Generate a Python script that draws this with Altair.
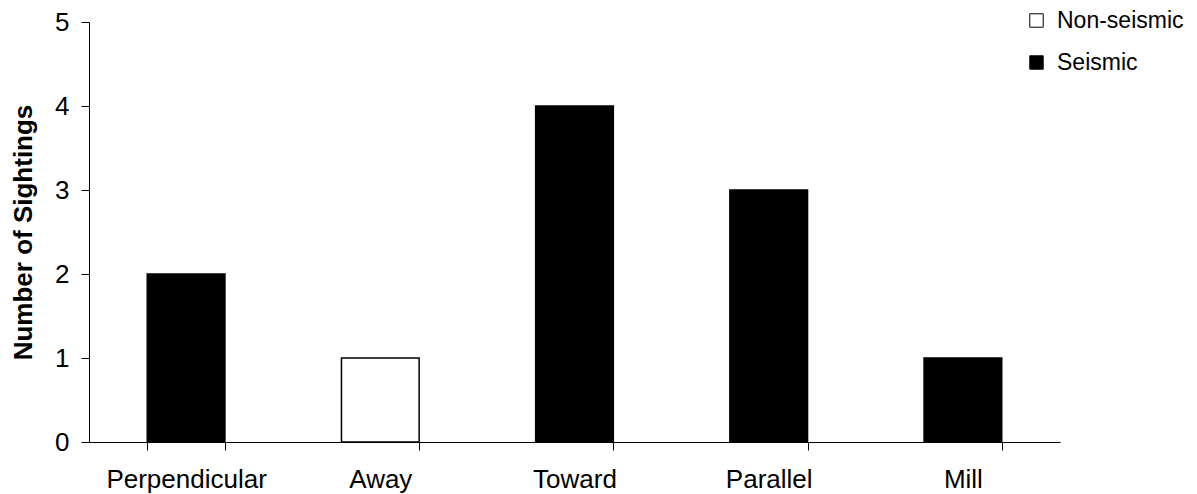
import altair as alt
import pandas as pd

categories = ["Perpendicular", "Away", "Toward", "Parallel", "Mill"]
sightings = [2, 1, 4, 3, 1]
kinds = ["Seismic", "Non-seismic", "Seismic", "Seismic", "Seismic"]

df = pd.DataFrame({"cat": categories, "n": sightings, "kind": kinds})

FONT = "Liberation Sans"

bars = alt.Chart(df).mark_bar(stroke="black", strokeWidth=1.5).encode(
    x=alt.X("cat:N", sort=categories, title=None,
            scale=alt.Scale(paddingInner=0.6, paddingOuter=0.3),
            axis=alt.Axis(labelAngle=0, tickBand="extent", tickSize=8,
                          labelPadding=16, labelFontSize=26, labelFont=FONT,
                          labelColor="black", domainColor="black", tickColor="black",
                          domainWidth=1, tickWidth=1)),
    y=alt.Y("n:Q", title="Number of Sightings",
            scale=alt.Scale(domain=[0, 5], nice=False),
            axis=alt.Axis(values=[0, 1, 2, 3, 4, 5], grid=False, tickSize=8,
                          labelPadding=12, labelFontSize=26, labelFont=FONT,
                          labelColor="black", domainColor="black", tickColor="black",
                          titleFont=FONT, titleFontSize=26, titleFontWeight="bold",
                          titleColor="black", titlePadding=18)),
    fill=alt.Fill("kind:N",
                  scale=alt.Scale(domain=["Non-seismic", "Seismic"], range=["white", "black"]),
                  legend=alt.Legend(title=None, orient="none", legendX=936, legendY=-13,
                                    symbolType="square", symbolSize=180,
                                    symbolStrokeColor="black", symbolStrokeWidth=1,
                                    labelFont=FONT, labelFontSize=23, labelColor="black",
                                    rowPadding=18, labelOffset=9, padding=0)),
)

chart = bars.properties(
    width=971, height=420,
    autosize=alt.AutoSizeParams(type="none"),
    padding={"left": 81, "top": 14, "right": 129, "bottom": 52},
).configure_view(stroke=None)

chart.save("out.html", embed_options={"renderer": "svg", "actions": False})
